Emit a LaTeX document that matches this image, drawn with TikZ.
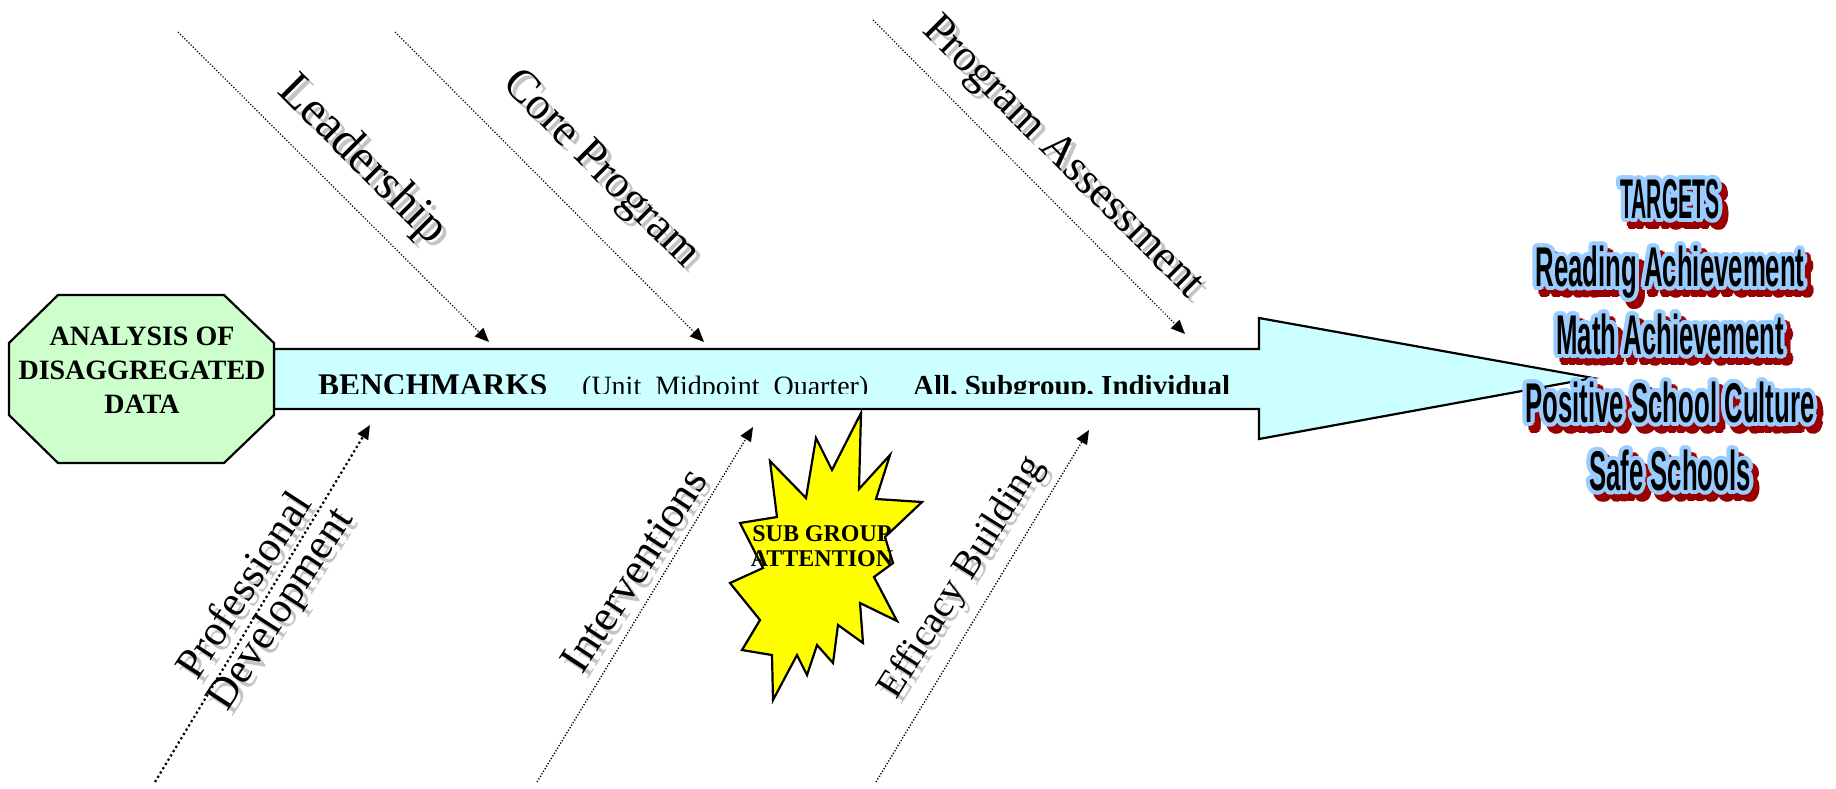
\documentclass[tikz,border=0pt]{standalone}
\usepackage{fontspec}
\usepackage{graphicx}
\setmainfont{Liberation Serif}
\newfontfamily\tgtfont[FakeStretch=0.46]{Liberation Sans}
\usetikzlibrary{arrows.meta}
\definecolor{bodycyan}{HTML}{CCFFFF}
\definecolor{octgreen}{HTML}{CCFFCC}
\definecolor{staryellow}{HTML}{FFFF00}
\definecolor{shadowgray}{HTML}{C4C4C4}
\definecolor{tgtblue}{HTML}{99CCFF}
\definecolor{tgtred}{HTML}{990000}
\tikzset{
  fishline/.style={line width=1.2pt, dash pattern=on 1.2pt off 1.8pt, -{Triangle[length=14pt,width=12pt]}},
  pdline/.style={fishline, line width=2.2pt, dash pattern=on 2.2pt off 2.8pt},
  fishlbl/.style={inner sep=0pt, font=\fontsize{48}{48}\selectfont},
  shdw/.style={text=shadowgray},
  shapeline/.style={draw=black, line width=2.2pt, line join=miter},
  tgt/.style={inner sep=0pt, anchor=north, align=center, font=\tgtfont\bfseries\fontsize{56}{68}\selectfont},
  bodytext/.style={inner sep=0pt, anchor=base west},
}
\newcommand\fishtext[5]{%
  \node[fishlbl, shdw, rotate=#4] (#1s) at ([shift={(5,5)}]#2,#3) {#5};
  \node[fishlbl, rotate=#4] (#1) at (#2,#3) {#5};
}
\def\tgttext{\scalebox{0.82}[1]{TARGETS}\\Reading Achievement\\Math Achievement\\Positive School Culture\\Safe Schools}
\begin{document}
\begin{tikzpicture}[x=1pt,y=-1pt]
\useasboundingbox (0,0) rectangle (1836,788);
% main arrow (spine)
\draw[shapeline, fill=bodycyan] (274,349) -- (1259,349) -- (1259,318) -- (1593,378) -- (1259,439) -- (1259,409) -- (274,409) -- cycle;
% octagon
\draw[shapeline, fill=octgreen] (58,295) -- (224,295) -- (274,343) -- (274,415) -- (224,463) -- (58,463) -- (9,415) -- (9,343) -- cycle;
\node[font=\bfseries\fontsize{28}{34}\selectfont, align=center, inner sep=0pt] (oct) at (142,370) {ANALYSIS OF\\DISAGGREGATED\\DATA};
% spine text (clipped)
\begin{scope}
\clip (276,351) rectangle (1258,393);
\node[bodytext, font=\bfseries\fontsize{31.5}{31.5}\selectfont] (bench) at (318,395) {BENCHMARKS};
\node[bodytext, font=\fontsize{28}{28}\selectfont] (unit) at (582,395) {(Unit\ \ Midpoint\ \ Quarter)};
\node[bodytext, font=\bfseries\fontsize{29}{29}\selectfont] (allsub) at (913,395) {All, Subgroup, Individual};
\end{scope}
% starburst
\draw[shapeline, fill=staryellow] (861,413) -- (859,489) -- (890,455) -- (876,499) -- (922,502) -- (885,537) -- (893,563) -- (874,577) -- (897,621) -- (860,603) -- (863,643) -- (838,625) -- (833,663) -- (817,645) -- (807,675) -- (797,655) -- (773,700) -- (772,655) -- (742,650) -- (760,620) -- (730,583) -- (763,568) -- (740,523) -- (777,517) -- (770,461) -- (806,498) -- (816,438) -- (832,470) -- cycle;
\node[font=\bfseries\fontsize{24}{25}\selectfont, align=center, inner sep=0pt] (sub) at (822,546) {SUB GROUP\\ATTENTION};
% bones
\coordinate (l1s) at (178,32);  \coordinate (l1e) at (489,342);
\coordinate (l2s) at (395,32);  \coordinate (l2e) at (704,342);
\coordinate (l3s) at (873,20);  \coordinate (l3e) at (1185,334);
\coordinate (b1s) at (155,782); \coordinate (b1e) at (370,425);
\coordinate (b2s) at (537,782); \coordinate (b2e) at (753,427);
\coordinate (b3s) at (876,782); \coordinate (b3e) at (1089,430);
\draw[fishline] (l1s) -- (l1e);
\draw[fishline] (l2s) -- (l2e);
\draw[fishline] (l3s) -- (l3e);
\draw[pdline] (b1s) -- (b1e);
\draw[fishline, line width=1.4pt] (b2s) -- (b2e);
\draw[fishline, line width=1.4pt] (b3s) -- (b3e);
% labels
\fishtext{lead}{362}{161}{-45}{\fontsize{49}{49}\selectfont Leadership}
\fishtext{core}{600}{170}{-45}{\fontsize{46}{46}\selectfont Core Program}
\fishtext{assess}{1062}{158}{-45}{\fontsize{45}{45}\selectfont Program Assessment}
\fishtext{interv}{634}{570}{57}{\fontsize{44}{44}\selectfont Interventions}
\fishtext{effic}{962}{578}{58}{\fontsize{39}{39}\selectfont Efficacy Building}
\node[fishlbl, shdw, rotate=57, align=center, font=\fontsize{43}{42}\selectfont] (profs) at ([shift={(5,5)}]264,598) {Professional\\Development};
\node[fishlbl, rotate=57, align=center, font=\fontsize{43}{42}\selectfont] (prof) at (264,598) {Professional\\Development};
% targets
\foreach \a [count=\i] in {0,22.5,...,337.5} {
  \node[tgt, text=tgtred] (tr\i) at ([shift={(\a:4)}]1676,186) {\tgttext};
}
\foreach \a [count=\i] in {0,22.5,...,337.5} {
  \node[tgt, text=tgtblue] (tb\i) at ([shift={(\a:4)}]1670,179) {\tgttext};
}
\node[tgt] (targets) at (1670,179) {\tgttext};
\end{tikzpicture}
\end{document}
